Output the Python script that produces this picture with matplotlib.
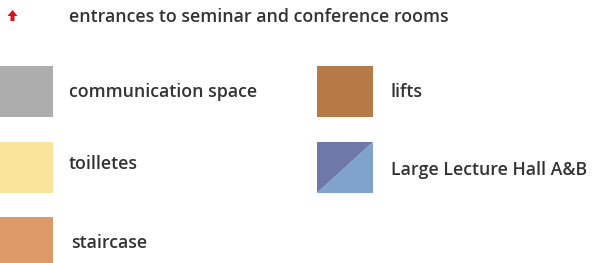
import matplotlib.pyplot as plt
from matplotlib.patches import Rectangle, Polygon, FancyArrow

# legend entries
left_labels = ['communication space', 'toilletes', 'staircase']
left_colors = ['#adadad', '#f8e59b', '#db9a67']
right_labels = ['lifts', 'Large Lecture Hall A&B']
right_colors = ['#b57a45', ('#6e79aa', '#7fa3cd')]
entrance_label = 'entrances to seminar and conference rooms'
entrance_color = '#d9141e'

W, H = 595, 263
fig = plt.figure(figsize=(W / 100, H / 100), dpi=100)
ax = fig.add_axes([0, 0, 1, 1])
ax.set_xlim(0, W)
ax.set_ylim(H, 0)
ax.axis('off')

txt = dict(fontsize=12.8, color='#333333', va='center', family='Open Sans', fontweight='semibold')

# entrance arrow
ax.add_patch(FancyArrow(12.5, 21, 0, -11, width=4, head_width=10, head_length=6,
                        length_includes_head=True, color=entrance_color, lw=0))
ax.text(69, 17, entrance_label, **txt)

# left column
tops = [66, 142, 217]
text_y = [92, 164, 243]
text_x = [69, 69, 71]
for lab, col, t, ty, tx in zip(left_labels, left_colors, tops, text_y, text_x):
    ax.add_patch(Rectangle((0, t), 53, 51, color=col, lw=0))
    ax.text(tx, ty, lab, **txt)

# right column
ax.add_patch(Rectangle((317, 66), 56, 51, color=right_colors[0], lw=0))
ax.text(391, 92, right_labels[0], **txt)

x0, x1, y0, y1 = 317, 373, 142, 193
dark, light = right_colors[1]
ax.add_patch(Polygon([(x0, y0), (x1, y0), (x0, y1)], closed=True, color=dark, lw=0))
ax.add_patch(Polygon([(x1, y0), (x1, y1), (x0, y1)], closed=True, color=light, lw=0))
ax.text(391, 170, right_labels[1], **txt)

fig.savefig('out.png', dpi=100)
